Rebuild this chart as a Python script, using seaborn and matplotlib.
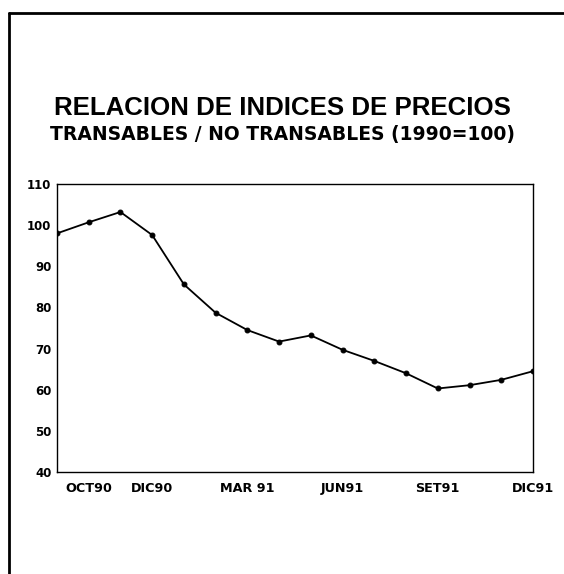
import matplotlib
matplotlib.use("Agg")
import matplotlib.pyplot as plt
import seaborn as sns
import pandas as pd
from matplotlib.lines import Line2D

# monthly index, sep 1990 .. dec 1991
meses = ["SET90", "OCT90", "NOV90", "DIC90", "ENE91", "FEB91", "MAR91", "ABR91",
         "MAY91", "JUN91", "JUL91", "AGO91", "SET91", "OCT91", "NOV91", "DIC91"]
indice = [98.0, 100.7, 103.2, 97.6, 85.6, 78.7, 74.5, 71.7,
          73.2, 69.7, 67.0, 64.0, 60.3, 61.1, 62.4, 64.5]
etiquetas = ["OCT90", "DIC90", "MAR 91", "JUN91", "SET91", "DIC91"]
pos_etiquetas = [1, 3, 6, 9, 12, 15]
yticks = [40, 50, 60, 70, 80, 90, 100, 110]

df = pd.DataFrame({"mes": range(len(meses)), "indice": indice})

sns.set_style("white")
plt.rcParams['font.family'] = ['DejaVu Sans']
plt.rcParams['text.color'] = 'black'

fig = plt.figure(figsize=(5.64, 5.74), dpi=100)
ax = fig.add_axes([0.101, 0.1777, 0.844, 0.5017])

sns.lineplot(data=df, x="mes", y="indice", ax=ax, color="black", linewidth=1.3,
             marker="o", markersize=3.5, markeredgecolor="black")

ax.set_xlim(0, len(meses) - 1)
ax.set_ylim(40, 110)
ax.set_yticks(yticks)
ax.set_yticklabels([str(v) for v in yticks], fontweight="bold", fontsize=8.5, color="black")
ax.set_xticks(pos_etiquetas)
ax.set_xticklabels(etiquetas, fontweight="bold", fontsize=9.2, color="black")
ax.tick_params(axis="both", length=0)
ax.tick_params(axis="y", pad=4)
ax.tick_params(axis="x", pad=7)
ax.set_xlabel("")
ax.set_ylabel("")
for s in ax.spines.values():
    s.set_color("black")
    s.set_linewidth(1.0)

t1 = fig.text(0.5, 0.7997, "RELACION DE INDICES DE PRECIOS", ha="center", va="baseline",
              fontsize=16, family="Liberation Sans", fontweight="bold")
t2 = fig.text(0.5, 0.756, "TRANSABLES / NO TRANSABLES (1990=100)", ha="center", va="baseline",
              fontsize=12.5, fontweight="bold")

# fit title widths to the original page
r = fig.canvas.get_renderer()
for t, w in [(t1, 458), (t2, 466)]:
    ancho = t.get_window_extent(r).width
    t.set_fontsize(t.get_fontsize() * w / ancho)

# page border (top and left edges)
fig.add_artist(Line2D([0.016, 1.0], [0.978, 0.978], color="black", linewidth=2))
fig.add_artist(Line2D([0.016, 0.016], [0.0, 0.978], color="black", linewidth=2))

fig.savefig("out.png", dpi=100)
